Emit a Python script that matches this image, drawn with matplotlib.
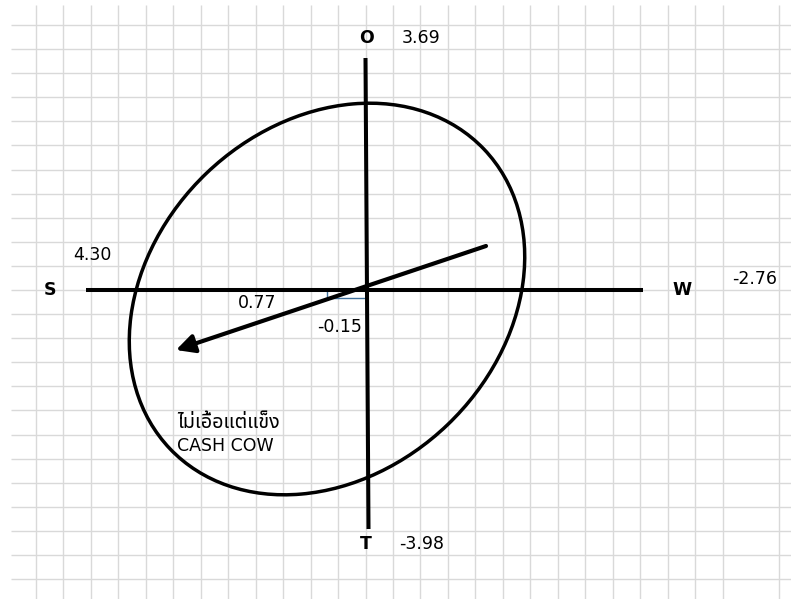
import numpy as np
import matplotlib
matplotlib.use("Agg")
import matplotlib.pyplot as plt
from matplotlib.patches import Ellipse, Rectangle, FancyArrowPatch
from matplotlib import font_manager
from matplotlib.ft2font import FT2Font

# ---------------- data ----------------
axis_labels = ["S", "W", "O", "T"]
axis_values = [4.30, -2.76, 3.69, -3.98]
result_labels = ["0.77", "-0.15"]
result_values = [0.77, -0.15]
quadrant_text = ["ไม่เอื้อแต่แข็ง", "CASH COW"]

# ---------------- find a Thai-capable font (fallback only) ----------------
thai_candidates = []
for f in font_manager.fontManager.ttflist:
    try:
        ft = FT2Font(f.fname)
        if ft.get_char_index(ord("ไ")):
            thai_candidates.append(f.name)
    except Exception:
        pass
def _rank(n):
    s = 0
    if "Thai" in n: s -= 2
    if "Sans" in n: s -= 1
    if "Looped" in n: s += 3
    return s
thai_candidates = sorted(set(thai_candidates), key=_rank)
latin_family = ["DejaVu Sans"]
thai_family = ["DejaVu Sans"] + thai_candidates[:1]

# ---------------- layout (pixel-like drawing coordinates) ----------------
W, H = 791, 599
grid_x = list(36 + 27.46 * np.arange(26)) + [779]
grid_y = list(25 + 24.09 * np.arange(24))
origin = (366.5, 290)
h_axis = (86, 643)          # left/right ends of horizontal axis
v_axis = ((365.5, 58), (368.5, 529))
ell_center = (327, 299)
ell_w, ell_h, ell_ang = 434.0, 348.4, -43.7
arrow_start = (486, 246)
arrow_end = (176, 350)

fig = plt.figure(figsize=(W / 100, H / 100), dpi=100)
ax = fig.add_axes([0, 0, 1, 1])
ax.set_xlim(0, W)
ax.set_ylim(H, 0)
ax.axis("off")

# spreadsheet grid
ax.vlines(grid_x, 5, H, colors="#d9d9d9", lw=1.0, zorder=0)
ax.hlines(grid_y, 11, W, colors="#d9d9d9", lw=1.0, zorder=0)

# small blue rectangle near the origin
ax.add_patch(Rectangle((327, 289), 40, 9, fill=False, ec="#41719c", lw=1.0, zorder=1))

# axes lines
ax.plot(h_axis, [origin[1], origin[1]], color="black", lw=2.9, solid_capstyle="butt", zorder=2)
ax.plot([v_axis[0][0], v_axis[1][0]], [v_axis[0][1], v_axis[1][1]], color="black", lw=2.9,
        solid_capstyle="butt", zorder=2)

# ellipse
ax.add_patch(Ellipse(ell_center, ell_w, ell_h, angle=ell_ang, fill=False, ec="black", lw=2.5, zorder=3))

# arrow
ax.add_patch(FancyArrowPatch(arrow_start, arrow_end, arrowstyle="-|>,head_length=0.55,head_width=0.28",
                             mutation_scale=20, color="black", lw=3.0, shrinkA=0, shrinkB=0, zorder=4))

fs = 12.5
# axis letters (bold) and values
label_pos = {"S": (50, 290), "W": (682, 290), "O": (366, 38), "T": (366, 544)}
value_pos = {"S": (73, 255), "W": (732, 279), "O": (402, 38), "T": (399, 544)}
for lab, val in zip(axis_labels, axis_values):
    x, y = label_pos[lab]
    ax.text(x, y, lab, ha="center", va="center", fontsize=fs, fontweight="bold", family=latin_family)
    vx, vy = value_pos[lab]
    ax.text(vx, vy, f"{val:.2f}", ha="left", va="center", fontsize=fs, family=latin_family)

# result values
res_pos = [(238, 303), (317, 327)]
for (x, y), v in zip(res_pos, result_values):
    ax.text(x, y, f"{v:.2f}", ha="left", va="center", fontsize=fs, family=latin_family)

# quadrant text
ax.text(177, 422, quadrant_text[0], ha="left", va="center", fontsize=14.2, family=thai_family)
ax.text(177, 446, quadrant_text[1], ha="left", va="center", fontsize=fs, family=latin_family)

fig.savefig("out.png", dpi=100)
